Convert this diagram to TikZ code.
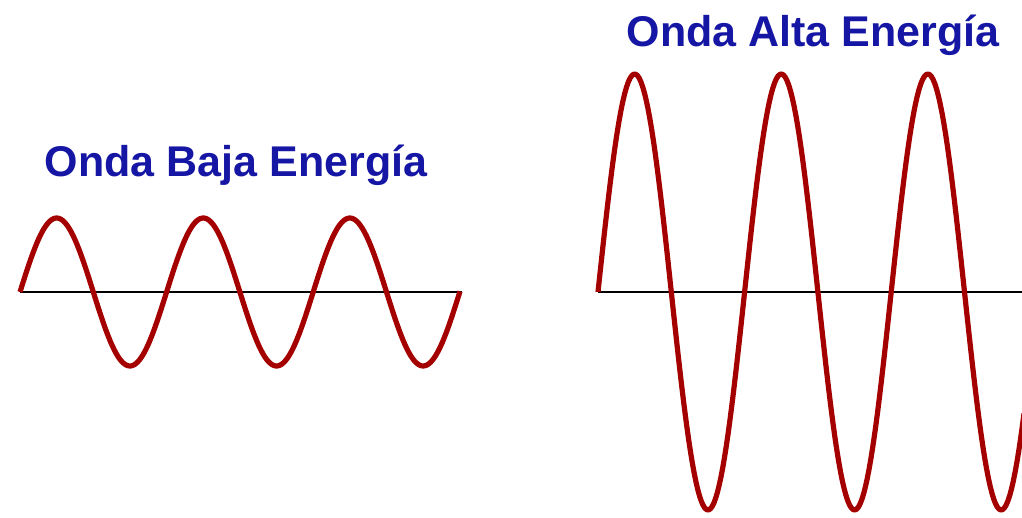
\documentclass[tikz,border=0pt]{standalone}
\usepackage{fontspec}
\setmainfont{Liberation Sans}
\definecolor{wavered}{RGB}{165,0,0}
\definecolor{titleblue}{RGB}{22,22,165}

\tikzset{
  wave/.style={wavered, line width=5.2pt, line join=round},
  axis/.style={black, line width=1.8pt},
  title/.style={anchor=base, text=titleblue, font=\fontsize{43}{50}\selectfont\bfseries, inner sep=0pt}
}

\begin{document}
\begin{tikzpicture}[x=1pt,y=1pt]

\useasboundingbox (0,0) rectangle (1022,517);

% Period and axis height
\def\T{146.6}
\def\h{225}

% Axis ends
\coordinate (L1) at (20,\h);
\coordinate (L2) at (462,\h);
\coordinate (R1) at (598,\h);
\coordinate (R2) at (1022,\h);

% Axes
\draw[axis] (L1) -- (L2);
\draw[axis] (R1) -- (R2);

% Low energy wave
\draw[wave] plot[domain=20:460, samples=240] (\x, {\h + 74*sin(360/\T*(\x-20))});

% High energy wave
\draw[wave] plot[domain=598:1024, samples=240] (\x, {\h + 218*sin(360/\T*(\x-598))});

% Labels
\node[title] (low)  at (236,340) {Onda Baja Energía};
\node[title] (high) at (813,470) {Onda Alta Energía};

\end{tikzpicture}
\end{document}
